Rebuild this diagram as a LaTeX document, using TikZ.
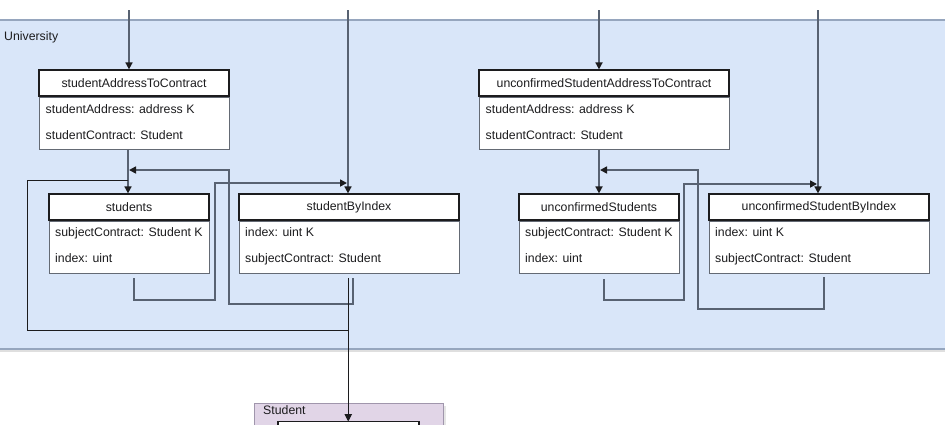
\documentclass[tikz,border=0pt]{standalone}
\usepackage{fontspec}
\setmainfont{Liberation Sans}
\usepackage{tikz}
\usetikzlibrary{positioning, arrows.meta, calc}
\definecolor{ink}{RGB}{28,28,30}
\definecolor{slate}{RGB}{100,106,116}
\definecolor{steel}{RGB}{88,98,114}
\definecolor{pkgfill}{RGB}{217,230,249}
\definecolor{pkgline}{RGB}{150,166,190}
\definecolor{lilac}{RGB}{225,213,231}
\definecolor{lilacline}{RGB}{160,150,172}

\begin{document}
\begin{tikzpicture}[
  x=1pt, y=-1pt,
  font=\fontsize{12.3}{14}\selectfont,
  pkg/.style={draw=pkgline, fill=pkgfill, line width=1.2pt},
  hdr/.style={draw=ink, fill=white, line width=1.2pt,
              minimum height=26pt, inner sep=0pt, text=ink},
  fld/.style={draw=slate, fill=white, line width=1pt,
              minimum height=52pt, inner sep=0pt, anchor=north},
  row/.style={anchor=west, inner sep=0pt, text height=9pt,
              text depth=2.5pt, text=ink},
  lnk/.style={draw=steel, line width=1.6pt,
              -{Triangle[length=7pt, width=7pt, color=ink]}},
  dep/.style={draw=ink, line width=0.9pt,
              -{Triangle[length=7pt, width=7pt]}}]
  \useasboundingbox (0,0) rectangle (945,424);
  \clip (0,0) rectangle (945,424);
  % packages
  \draw[gray!25, line width=2.5pt] (-5,351) -- (950,351);
  \draw[pkg] (-5,20) rectangle (950,349);
  \node[row] (uniLbl) at (4,37) {University};
  \draw[gray!20, line width=2pt] (445,406) -- (445,430);
  \draw[draw=lilacline, fill=lilac, line width=1pt] (254,403) rectangle (443,440);
  \node[row] (stuLbl) at (263,411) {Student};
  \node[hdr, minimum width=141pt, minimum height=30pt, anchor=north] (stuCls) at (348.5,421) {};
  % left mappings
  \node[hdr, minimum width=190pt] (sac) at (134,83) {studentAddressToContract};
  \node[fld, minimum width=190pt] (sacF) at (sac.south) {};
  \node[row] (sacA) at (45.5,110) {studentAddress: address K};
  \node[row] (sacB) at (45.5,136) {studentContract: Student};
  \node[hdr, minimum width=160pt] (stu) at (129,207) {students};
  \node[fld, minimum width=160pt] (stuF) at (stu.south) {};
  \node[row] (stuA) at (55,233) {subjectContract: Student K};
  \node[row] (stuB) at (55,259) {index: uint};
  \node[hdr, minimum width=220pt] (sbi) at (349,207) {studentByIndex};
  \node[fld, minimum width=220pt] (sbiF) at (sbi.south) {};
  \node[row] (sbiA) at (245,233) {index: uint K};
  \node[row] (sbiB) at (245,259) {subjectContract: Student};
  % right mappings
  \node[hdr, minimum width=250pt] (usac) at (604,83) {unconfirmedStudentAddressToContract};
  \node[fld, minimum width=250pt] (usacF) at (usac.south) {};
  \node[row] (usacA) at (485.5,110) {studentAddress: address K};
  \node[row] (usacB) at (485.5,136) {studentContract: Student};
  \node[hdr, minimum width=160pt] (ustu) at (599,207) {unconfirmedStudents};
  \node[fld, minimum width=160pt] (ustuF) at (ustu.south) {};
  \node[row] (ustuA) at (525,233) {subjectContract: Student K};
  \node[row] (ustuB) at (525,259) {index: uint};
  \node[hdr, minimum width=220pt] (usbi) at (819,207) {unconfirmedStudentByIndex};
  \node[fld, minimum width=220pt] (usbiF) at (usbi.south) {};
  \node[row] (usbiA) at (715,233) {index: uint K};
  \node[row] (usbiB) at (715,259) {subjectContract: Student};
  % connectors
  \coordinate (in1) at (129,10);
  \coordinate (in2) at (348,10);
  \coordinate (in3) at (599,10);
  \coordinate (in4) at (818,10);
  \coordinate (j1) at (128,170);
  \coordinate (j2) at (128,180);
  \coordinate (j3) at (599,170);
  \draw[lnk] (in1) -- (in1 |- sac.north);
  \draw[lnk] (in2) -- (in2 |- sbi.north);
  \draw[lnk] (sacF.south -| j1) -- (stu.north -| j1);
  \draw[lnk, shorten >=1pt] (353,278) -- (353,304) -| (229,170) -- (j1);
  \draw[lnk, shorten >=1pt] (134,278) -- (134,300) -| (215,183) -- (in2 |- 0,183);
  \draw[dep] (j2) -| (27,330) -| (stuCls.north);
  \draw[dep] (348,278) -- (348,421);
  \draw[lnk] (in3) -- (in3 |- usac.north);
  \draw[lnk] (in4) -- (in4 |- usbi.north);
  \draw[lnk] (usacF.south -| j3) -- (ustu.north -| j3);
  \draw[lnk, shorten >=1pt] (824,277) -- (824,309) -| (698,170) -- (j3);
  \draw[lnk, shorten >=1pt] (604,279) -- (604,300) -| (684,184) -- (in4 |- 0,184);
\end{tikzpicture}
\end{document}
